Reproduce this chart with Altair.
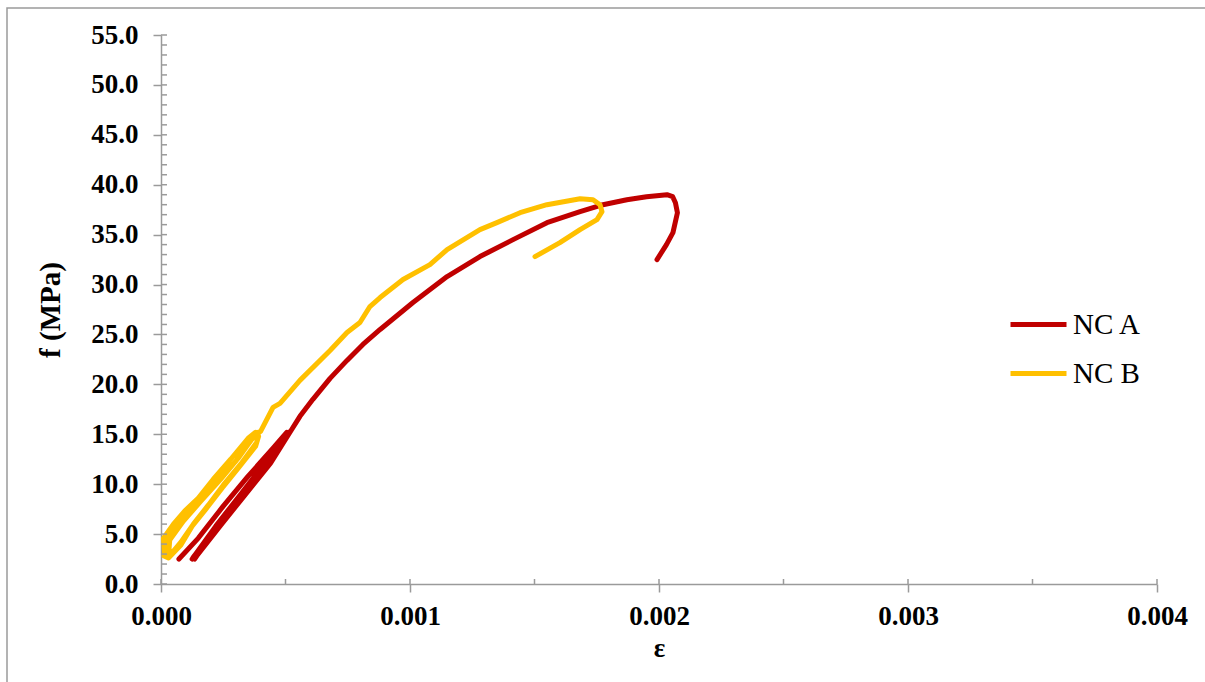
import altair as alt
import pandas as pd

# NC A (strain, stress in MPa) – cyclic part then envelope to failure
nca_strain = [0.000072, 0.00015, 0.00025, 0.00035, 0.00045, 0.000505,
              0.00051, 0.00042, 0.00032, 0.00022, 0.000125,
              0.00013, 0.00023, 0.00033, 0.00043, 0.000512,
              0.000505, 0.00042, 0.00032, 0.00022, 0.000135,
              0.00014, 0.00024, 0.00034, 0.00044, 0.000518,
              0.000558, 0.00061, 0.000679, 0.000747, 0.000811, 0.00088, 0.001012, 0.001149,
              0.001281, 0.001414, 0.00155, 0.001683, 0.001775, 0.001871, 0.00195, 0.002032,
              0.002055, 0.002066, 0.002074, 0.002056, 0.00203, 0.001992]
nca_stress = [2.5, 4.6, 7.8, 10.8, 13.6, 15.2,
              15.1, 12.2, 9.0, 5.8, 2.5,
              2.7, 5.9, 9.0, 12.2, 15.2,
              14.9, 12.0, 8.8, 5.6, 2.5,
              2.7, 5.9, 9.0, 12.1, 15.2,
              16.8, 18.5, 20.6, 22.4, 24.0, 25.5, 28.2, 30.8,
              32.8, 34.5, 36.2, 37.3, 38.0, 38.5, 38.8, 39.0,
              38.8, 38.2, 37.2, 35.2, 34.0, 32.5]

# NC B
ncb_strain = [0.000015, 0.00001, 0.00005, 0.000095, 0.00015, 0.00021, 0.00028, 0.00035, 0.00038,
              0.000392, 0.00038, 0.00031, 0.000245, 0.00018, 0.000125, 0.00008, 0.00003, 0.000012,
              0.00002, 0.00006, 0.00011, 0.00017, 0.00023, 0.0003, 0.000365, 0.00039,
              0.000385, 0.00032, 0.00025, 0.00019, 0.00013, 0.00008, 0.00003,
              0.000035, 0.00009, 0.00016, 0.00024, 0.00031, 0.00037, 0.0004,
              0.00045, 0.000478, 0.000558, 0.000679, 0.000747, 0.000799, 0.000839, 0.00088,
              0.000972, 0.00108, 0.001149, 0.001281, 0.001349, 0.001442, 0.00155, 0.001683,
              0.001735, 0.001763, 0.001771, 0.001751, 0.001683, 0.001602, 0.001502]
ncb_stress = [2.8, 4.6, 6.0, 7.3, 8.6, 10.5, 12.5, 14.6, 15.2,
              14.8, 13.8, 11.6, 9.6, 7.5, 5.8, 3.9, 2.6, 2.8,
              4.2, 5.6, 7.0, 8.6, 10.4, 12.3, 14.5, 15.2,
              14.2, 12.0, 9.9, 7.9, 6.0, 4.2, 2.7,
              4.4, 6.3, 8.3, 10.5, 12.6, 14.7, 15.3,
              17.7, 18.1, 20.4, 23.4, 25.2, 26.2, 27.8, 28.7,
              30.5, 32.0, 33.5, 35.5, 36.2, 37.2, 38.0, 38.6,
              38.5, 38.0, 37.3, 36.5, 35.5, 34.2, 32.8]

series_names = ["NC A", "NC B"]
series_colors = ["#C00000", "#FFC000"]

x_major = [0.000, 0.001, 0.002, 0.003, 0.004]
x_minor = [0.0, 0.0005, 0.001, 0.0015, 0.002, 0.0025, 0.003, 0.0035, 0.004]
y_major = [0, 5, 10, 15, 20, 25, 30, 35, 40, 45, 50, 55]
y_minor = list(range(0, 56))

rows = []
for name, xs, ys in [("NC A", nca_strain, nca_stress), ("NC B", ncb_strain, ncb_stress)]:
    for i, (a, b) in enumerate(zip(xs, ys)):
        rows.append({"series": name, "i": i, "strain": a, "stress": b})
df = pd.DataFrame(rows)

W, H = 996, 549
FONT = "Liberation Serif"
AX = "#9a9a9a"

xscale = alt.Scale(domain=[0, 0.004], nice=False, zero=False)
yscale = alt.Scale(domain=[0, 55], nice=False)

xaxis = alt.Axis(values=x_major, format=".3f", title="ε", grid=False,
                 domainColor=AX, domainWidth=1.5, tickColor=AX, tickWidth=1.5, tickSize=8,
                 labelFont=FONT, labelFontWeight="bold", labelFontSize=27, labelColor="black",
                 labelPadding=11, labelFlush=False, labelOverlap=False,
                 titleFont=FONT, titleFontWeight="bold", titleFontSize=27,
                 titleColor="black", titleY=64, titleBaseline="middle")
yaxis = alt.Axis(values=y_major, format=".1f", title="f (MPa)", grid=False,
                 domainColor=AX, domainWidth=1.5, tickColor=AX, tickWidth=1.5, tickSize=8,
                 labelFont=FONT, labelFontWeight="bold", labelFontSize=27, labelColor="black",
                 labelPadding=15, labelFlush=False, labelOverlap=False,
                 titleFont=FONT, titleFontWeight="bold", titleFontSize=29,
                 titleColor="black", titleX=-111, titleY=H / 2, titleAngle=-90,
                 titleBaseline="middle", titleAlign="center")

lines = alt.Chart(df).mark_line(strokeWidth=5, strokeCap="round", strokeJoin="round").encode(
    x=alt.X("strain:Q", scale=xscale, axis=xaxis),
    y=alt.Y("stress:Q", scale=yscale, axis=yaxis),
    color=alt.Color("series:N", scale=alt.Scale(domain=series_names, range=series_colors),
                    legend=alt.Legend(title=None, orient="none", legendX=847, legendY=259,
                                      padding=0, symbolType="stroke", symbolSize=3136,
                                      symbolStrokeWidth=5,
                                      labelFont=FONT, labelFontSize=29, labelColor="black",
                                      labelOffset=4, rowPadding=3)),
    order="i:Q",
    detail="series:N",
)

ytick_in = alt.Chart(pd.DataFrame({"stress": y_minor})).mark_rule(color=AX, strokeWidth=1.5).encode(
    y=alt.Y("stress:Q", scale=yscale, axis=yaxis), x=alt.value(0), x2=alt.value(6))
xtick_in = alt.Chart(pd.DataFrame({"strain": x_minor})).mark_rule(color=AX, strokeWidth=1.5).encode(
    x=alt.X("strain:Q", scale=xscale, axis=xaxis), y=alt.value(H - 5), y2=alt.value(H))

frame = alt.Chart(pd.DataFrame({"a": [0]})).mark_rect(
    fillOpacity=0, stroke=AX, strokeWidth=1.5
).encode(x=alt.value(-154), x2=alt.value(1100), y=alt.value(-27), y2=alt.value(700))

chart = alt.layer(lines, ytick_in, xtick_in, frame).properties(
    width=W, height=H,
    autosize=alt.AutoSizeParams(type="none"),
    padding={"left": 161, "top": 35, "right": 48, "bottom": 98},
    background="white",
).configure_view(stroke=None)

chart.save("out.html", embed_options={"renderer": "svg", "actions": False})
